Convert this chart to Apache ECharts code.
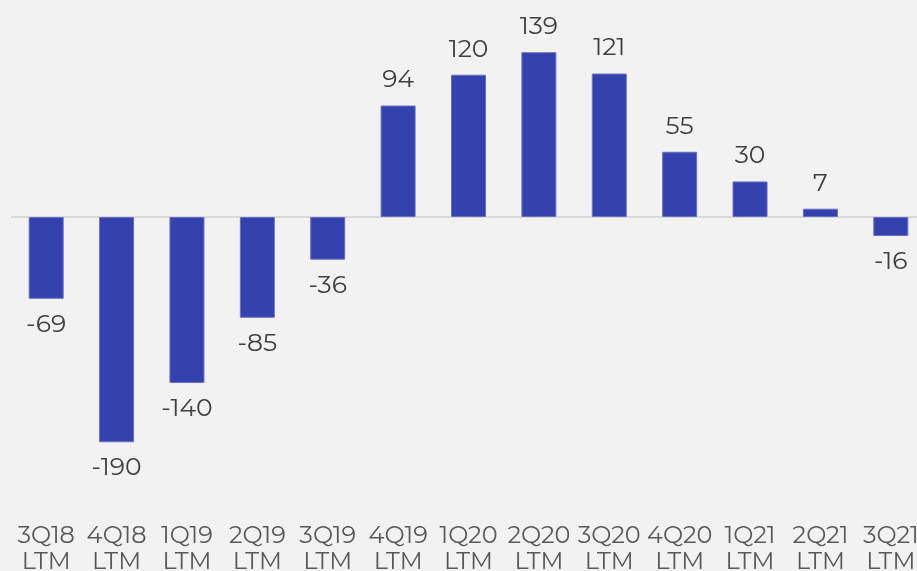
<!DOCTYPE html>
<html>
<head>
<meta charset="utf-8">
<script src="https://cdn.jsdelivr.net/npm/echarts@6/dist/echarts.min.js"></script>
<style>
  html, body { margin: 0; padding: 0; background: #f2f2f2; }
  #chart { width: 917px; height: 571px; }
</style>
</head>
<body>
<div id="chart"></div>
<script>
const categories = ['3Q18\nLTM', '4Q18\nLTM', '1Q19\nLTM', '2Q19\nLTM', '3Q19\nLTM', '4Q19\nLTM',
  '1Q20\nLTM', '2Q20\nLTM', '3Q20\nLTM', '4Q20\nLTM', '1Q21\nLTM', '2Q21\nLTM', '3Q21\nLTM'];
const values = [-69, -190, -140, -85, -36, 94, 120, 139, 121, 55, 30, 7, -16];

const chart = echarts.init(document.getElementById('chart'), null, { renderer: 'canvas' });

const barData = values.map((v) => {
  return {
    value: v,
    label: { position: v >= 0 ? 'top' : 'bottom' },
  };
});

const option = {
  backgroundColor: '#f2f2f2',
  animation: false,
  grid: { left: 11, width: 915, top: 27.3, bottom: 57.6, outerBoundsMode: 'none', containLabel: false },
  xAxis: {
    type: 'category',
    data: categories,
    axisLine: { show: false, onZero: false },
    axisTick: { show: false },
    axisLabel: {
      interval: 0,
      color: '#595959',
      fontFamily: 'Montserrat, sans-serif',
      fontSize: 24,
      lineHeight: 26,
      margin: 10,
      hideOverlap: false,
    },
  },
  yAxis: {
    type: 'value',
    min: -250,
    max: 160,
    show: false,
    splitLine: { show: false },
  },
  series: [
    {
      type: 'bar',
      data: barData,
      barWidth: 35,
      itemStyle: { color: '#3541ad', borderColor: '#6970c4', borderWidth: 1 },
      label: {
        show: true,
        distance: 13,
        color: '#404040',
        fontFamily: 'Montserrat, sans-serif',
        fontSize: 25,
      },
      markLine: {
        silent: true,
        symbol: 'none',
        label: { show: false },
        lineStyle: { color: '#d9d9d9', width: 2, type: 'solid' },
        data: [{ yAxis: 0 }],
        z: 1,
      },
    },
  ],
};

chart.setOption(option);
</script>
</body>
</html>
